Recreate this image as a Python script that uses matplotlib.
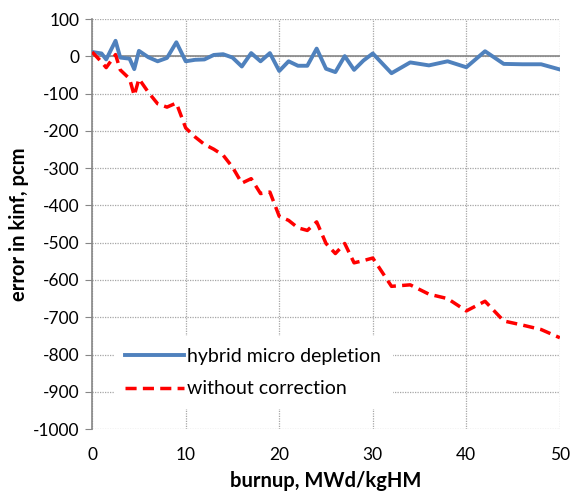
import matplotlib.pyplot as plt

plt.rcParams['font.family'] = ['Lato', 'DejaVu Sans']
plt.rcParams['axes.unicode_minus'] = False

# burnup points, MWd/kgHM
burnup = [0, 1, 1.5, 2.5, 3, 4, 4.5, 5, 6, 7, 8, 9, 10, 11, 12, 13, 14, 15, 16,
          17, 18, 19, 20, 21, 22, 23, 24, 25, 26, 27, 28, 29, 30, 32, 34, 36,
          38, 40, 42, 44, 46, 48, 50]

# error in kinf, pcm
hybrid = [12, 8, -8, 42, -3, -6, -34, 15, -2, -13, -4, 38, -13, -9, -8, 4, 6,
          -3, -27, 9, -13, 9, -39, -13, -25, -25, 21, -33, -42, 1, -36, -11, 8,
          -45, -16, -24, -13, -29, 14, -20, -21, -21, -35]
no_corr = [12, -15, -30, 5, -36, -60, -105, -60, -96, -127, -136, -125, -192,
           -216, -236, -249, -265, -297, -340, -328, -368, -364, -429, -440,
           -460, -467, -444, -502, -529, -502, -554, -548, -541, -617, -613,
           -638, -650, -683, -657, -710, -721, -733, -755]

yticks = list(range(-1000, 101, 100))
xticks = [0, 10, 20, 30, 40, 50]

fig = plt.figure(figsize=(5.76, 4.92), dpi=100)
ax = fig.add_axes([0.16, 0.128, 0.812, 0.833])

ax.plot(burnup, hybrid, color='#4F81BD', lw=2.8, label='hybrid micro depletion',
        solid_joinstyle='round', zorder=3)
ax.plot(burnup, no_corr, color='#FF0000', lw=2.5, ls=(0, (3.2, 1.8)),
        label='without correction', zorder=3)

ax.set_xlim(0, 50)
ax.set_ylim(-1000, 100)
ax.set_xticks(xticks)
ax.set_yticks(yticks)
ax.grid(True, color='#A6A6A6', ls=(0, (1, 1)), lw=0.9)
ax.axhline(0, color='#868686', lw=1.2, zorder=2)

for s in ['top', 'right', 'bottom']:
    ax.spines[s].set_visible(False)
ax.spines['left'].set_color('#868686')
ax.spines['left'].set_linewidth(1.2)
ax.tick_params(axis='y', length=5, color='#868686', labelsize=12.5, pad=4)
ax.tick_params(axis='x', length=0, labelsize=12.5, pad=13)

ax.set_xlabel('burnup, MWd/kgHM', fontsize=14.5, fontweight='bold', labelpad=6)
ax.set_ylabel('error in kinf, pcm', fontsize=14.5, fontweight='bold', labelpad=3)

leg = ax.legend(loc='lower left', bbox_to_anchor=(0.025, 0.025), fontsize=14,
                frameon=True, framealpha=1, edgecolor='none', handlelength=3.0,
                handletextpad=0.2, labelspacing=0.8, borderpad=0.6)
leg.get_frame().set_linewidth(0)

fig.savefig('out.png', dpi=100)
